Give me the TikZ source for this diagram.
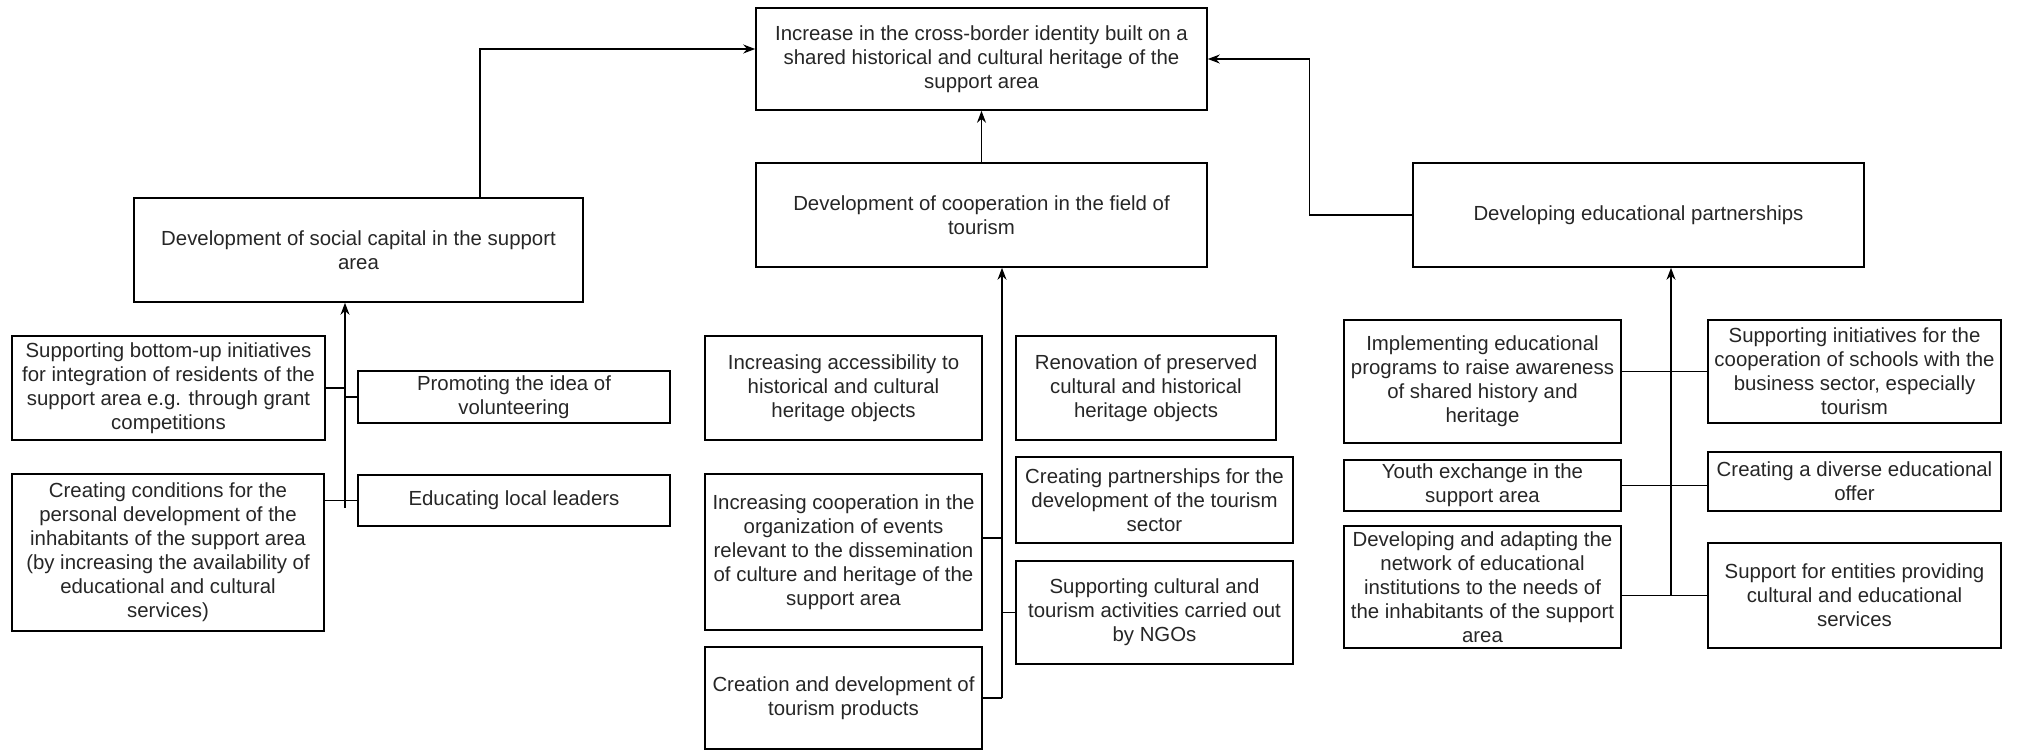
\documentclass[tikz,border=0pt]{standalone}
\usepackage{fontspec}
\setmainfont{Liberation Sans}
\usepackage{tikz}
\usetikzlibrary{arrows.meta, positioning}
\usepackage{xcolor}

\tikzset{
  box/.style={draw, line width=0.8pt, rectangle, align=center, inner sep=1pt,
              font=\fontsize{10.2}{12}\selectfont, text=black!85},
  link/.style={draw, line width=0.7pt},
  arr/.style={link, -{Stealth[length=6pt, width=4.5pt]}}
}

\begin{document}
\begin{tikzpicture}[x=50pt, y=50pt]
  \useasboundingbox (0,0) rectangle (20.19,-7.5);

  % Goal box and the three main branches
  \node[box, minimum width=225.5pt, minimum height=51pt] (goal) at (9.815,-0.59)
    {Increase in the cross-border identity built on a\\ shared historical and cultural heritage of the\\ support area};
  \node[box, minimum width=225.5pt, minimum height=52pt] (tour) at (9.815,-2.15)
    {Development of cooperation in the field of\\ tourism};
  \node[box, minimum width=224.5pt, minimum height=52pt] (social) at (3.585,-2.50)
    {Development of social capital in the support\\ area};
  \node[box, minimum width=225.5pt, minimum height=52pt] (edu) at (16.385,-2.15)
    {Developing educational partnerships};

  % Social capital actions
  \node[box, minimum width=156.5pt, minimum height=52pt] (bottomup) at (1.685,-3.88)
    {Supporting bottom-up initiatives\\ for integration of residents of the\\ support area e.g. through grant\\ competitions};
  \node[box, minimum width=156pt, minimum height=26pt] (volunt) at (5.14,-3.97)
    {Promoting the idea of\\ volunteering};
  \node[box, minimum width=156pt, minimum height=78.5pt] (personal) at (1.68,-5.525)
    {Creating conditions for the\\ personal development of the\\ inhabitants of the support area\\ (by increasing the availability of\\ educational and cultural\\ services)};
  \node[box, minimum width=156pt, minimum height=25.5pt] (leaders) at (5.14,-5.005)
    {Educating local leaders};

  % Tourism actions
  \node[box, minimum width=138.5pt, minimum height=52pt] (access) at (8.435,-3.88)
    {Increasing accessibility to\\ historical and cultural\\ heritage objects};
  \node[box, minimum width=130pt, minimum height=52pt] (renov) at (11.46,-3.88)
    {Renovation of preserved\\ cultural and historical\\ heritage objects};
  \node[box, minimum width=138.5pt, minimum height=78pt] (events) at (8.435,-5.52)
    {Increasing cooperation in the\\ organization of events\\ relevant to the dissemination\\ of culture and heritage of the\\ support area};
  \node[box, minimum width=138.5pt, minimum height=43pt] (partner) at (11.545,-5.00)
    {Creating partnerships for the\\ development of the tourism\\ sector};
  \node[box, minimum width=138.5pt, minimum height=51.5pt] (ngo) at (11.545,-6.125)
    {Supporting cultural and\\ tourism activities carried out\\ by NGOs};
  \node[box, minimum width=138.5pt, minimum height=51pt] (products) at (8.435,-6.98)
    {Creation and development of\\ tourism products};

  % Educational actions
  \node[box, minimum width=138.5pt, minimum height=61.5pt] (aware) at (14.825,-3.815)
    {Implementing educational\\ programs to raise awareness\\ of shared history and\\ heritage};
  \node[box, minimum width=146.5pt, minimum height=51.5pt] (schools) at (18.545,-3.715)
    {Supporting initiatives for the\\ cooperation of schools with the\\ business sector, especially\\ tourism};
  \node[box, minimum width=138.5pt, minimum height=25.5pt] (youth) at (14.825,-4.855)
    {Youth exchange in the\\ support area};
  \node[box, minimum width=146.5pt, minimum height=29.5pt] (offer) at (18.545,-4.815)
    {Creating a diverse educational\\ offer};
  \node[box, minimum width=138.5pt, minimum height=61pt] (network) at (14.825,-5.87)
    {Developing and adapting the\\ network of educational\\ institutions to the needs of\\ the inhabitants of the support\\ area};
  \node[box, minimum width=146.5pt, minimum height=52.5pt] (entities) at (18.545,-5.955)
    {Support for entities providing\\ cultural and educational\\ services};

  % Trunk ends
  \coordinate (sbot) at (3.45,-5.08);
  \coordinate (tbot) at (10.02,-6.98);
  \coordinate (ebot) at (16.71,-5.95);

  % Arrows up to the goal
  \draw[arr] ([xshift=60.75pt]social.north) |- ([yshift=5pt]goal.west);
  \draw[arr] (tour.north) -- (goal.south);
  \draw[arr] (edu.west) -- ++(-51.5pt,0) |- (goal.east);

  % Trunks
  \draw[arr] (sbot) -- (sbot |- social.south);
  \draw[arr] (tbot) -- (tbot |- tour.south);
  \draw[arr] (ebot) -- (ebot |- edu.south);

  % Branches
  \draw[link] (bottomup.east) -- (bottomup.east -| sbot);
  \draw[link] (volunt.west) -- (volunt.west -| sbot);
  \draw[link] (leaders.west) -- (leaders.west -| personal.east);
  \draw[link] ([yshift=7pt]events.east) -- ([yshift=7pt]events.east -| tbot);
  \draw[link] (ngo.west) -- (ngo.west -| tbot);
  \draw[link] (products.east) -- (products.east -| tbot);
  \draw[link] (schools.west) -- (schools.west -| aware.east);
  \draw[link] (youth.east) -- (youth.east -| offer.west);
  \draw[link] (entities.west) -- (entities.west -| network.east);
\end{tikzpicture}
\end{document}
